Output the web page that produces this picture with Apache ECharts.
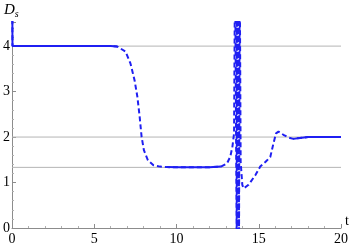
<!DOCTYPE html>
<html>
<head>
<meta charset="utf-8">
<script src="https://cdn.jsdelivr.net/npm/echarts@6/dist/echarts.min.js"></script>
<style>
  html, body { margin: 0; padding: 0; background: #fff; }
  #chart { width: 353px; height: 249px; }
</style>
</head>
<body>
<div id="chart"></div>
<script>
// time values t and spectral dimension D_s
var tValues = [0, 0.03, 1, 2, 3, 4, 5, 6, 6.4, 6.9, 7.2, 7.45, 7.62, 7.76, 7.88, 8.02, 8.26, 8.6, 9.0, 9.4, 10.2, 11, 12, 12.7, 13.07, 13.27, 13.4, 13.5,
  13.56, 13.66, 13.68, 13.71, 13.73, 13.75, 13.78, 13.8, 13.84,
  13.9, 14.0, 14.08, 14.38, 14.79, 15.09, 15.4, 15.7, 15.9, 16.05, 16.2, 16.5, 16.8, 17.1, 17.5, 18, 19, 20];
var dsValues = [6, 4.0, 4.0, 4.0, 4.0, 4.0, 4.0, 4.0, 3.99, 3.88, 3.62, 3.25, 2.89, 2.45, 2.0, 1.71, 1.49, 1.38, 1.35, 1.34, 1.334, 1.334, 1.336, 1.35, 1.42, 1.57, 1.79, 2.08,
  6, -0.5, 6, -0.5, 6, -0.5, 6, -0.5, 6,
  1.45, 0.95, 0.87, 0.95, 1.16, 1.35, 1.45, 1.56, 1.87, 2.08, 2.12, 2.05, 1.99, 1.96, 1.98, 2.0, 2.0, 2.0];
// parts of the curve drawn solid (plateaus)
var solidRanges = [[0, 6.4], [9.4, 12.7], [17.1, 20]];
// gray reference levels
var refLevels = [4, 2, 4 / 3];
var xTicks = [0, 5, 10, 15, 20];
var yTicks = [0, 1, 2, 3, 4];

var chart = echarts.init(document.getElementById('chart'));

var curve = tValues.map(function (t, i) { return [t, dsValues[i]]; });
var solid = curve.map(function (p) {
  var inside = solidRanges.some(function (r) { return p[0] >= r[0] && p[0] <= r[1]; });
  return inside ? p : [p[0], null];
});

var blue = '#1f1ff2';
var axisGray = '#8c8c8c';
var font = 'Liberation Serif';

var series = refLevels.map(function (v) {
  return {
    type: 'line',
    data: [[0, v], [20, v]],
    symbol: 'none',
    silent: true,
    z: 1,
    lineStyle: { color: '#b4b4b4', width: 1 }
  };
});
series.push({
  type: 'line',
  data: curve,
  symbol: 'none',
  clip: true,
  z: 3,
  lineStyle: { color: blue, width: 2, type: [5, 3] }
});
series.push({
  type: 'line',
  data: solid,
  symbol: 'none',
  clip: true,
  connectNulls: false,
  z: 4,
  lineStyle: { color: blue, width: 2 }
});

chart.setOption({
  animation: false,
  backgroundColor: '#fff',
  grid: { left: 11, right: 12, top: 22, bottom: 21 },
  xAxis: {
    type: 'value',
    min: xTicks[0],
    max: xTicks[xTicks.length - 1],
    interval: 5,
    axisLine: { lineStyle: { color: axisGray, width: 1 } },
    axisTick: { inside: true, length: 4, lineStyle: { color: axisGray } },
    minorTick: { show: true, splitNumber: 5, length: 2, lineStyle: { color: '#b0b0b0' } },
    splitLine: { show: false },
    axisLabel: { color: '#000', fontFamily: font, fontSize: 14, margin: 4 }
  },
  yAxis: {
    type: 'value',
    min: 0,
    max: 4.53,
    interval: 1,
    axisLine: { show: true, lineStyle: { color: axisGray, width: 1 } },
    axisTick: { show: true, inside: true, length: 4, lineStyle: { color: axisGray } },
    minorTick: { show: true, splitNumber: 5, length: 2, lineStyle: { color: '#b0b0b0' } },
    splitLine: { show: false },
    axisLabel: {
      color: '#000', fontFamily: font, fontSize: 14, margin: 2,
      formatter: function (v) { return yTicks.indexOf(v) >= 0 ? String(v) : ''; }
    }
  },
  graphic: [
    {
      type: 'text', left: 4, top: 3,
      style: {
        text: '{d|D}{s|s}',
        rich: {
          d: { fontFamily: font, fontStyle: 'italic', fontSize: 15, fill: '#000' },
          s: { fontFamily: font, fontStyle: 'italic', fontSize: 10, fill: '#000', padding: [8, 0, 0, 0] }
        }
      }
    },
    {
      type: 'text', left: 345, top: 214,
      style: { text: 't', fontFamily: font, fontSize: 14, fill: '#000' }
    }
  ],
  series: series
});
</script>
</body>
</html>
